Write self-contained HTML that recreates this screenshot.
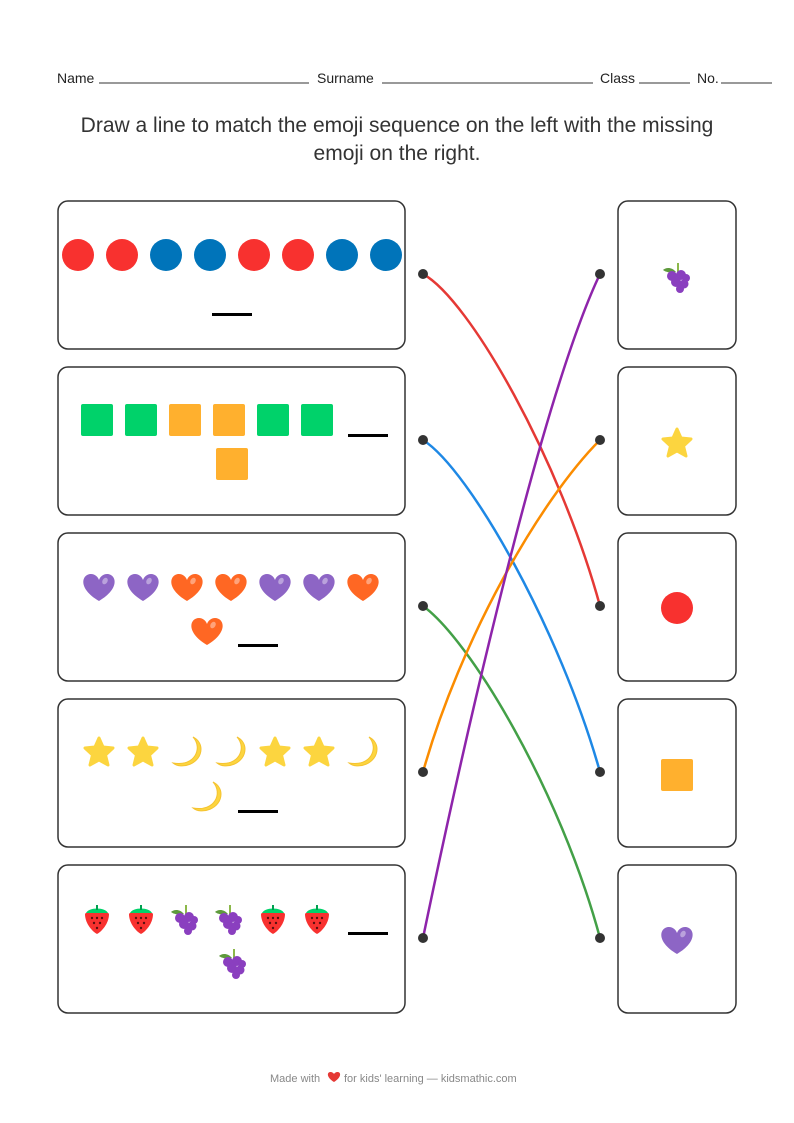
<!DOCTYPE html>
<html><head><meta charset="utf-8"><style>
html,body{margin:0;padding:0;background:#fff}
svg{display:block}
text{font-family:"Liberation Sans",sans-serif}
</style></head><body>
<svg width="794" height="1123" viewBox="0 0 794 1123" xmlns="http://www.w3.org/2000/svg">
<defs>
<g id="heart"><path d="M0,13 C-22,0 -17,-14 -8,-14 C-4,-14 -1,-11 0,-8 C1,-11 4,-14 8,-14 C17,-14 22,0 0,13Z"/><ellipse cx="6" cy="-7" rx="2.5" ry="3.5" fill="#fff" opacity=".4" transform="rotate(30 6 -7)"/></g>
<polygon id="star" points="0,-14 4,-5 14,-4 6.5,3 9,13 0,8 -9,13 -6.5,3 -14,-4 -4,-5" fill="#fcd53f" stroke="#fcd53f" stroke-width="3" stroke-linejoin="round"/>
<path id="moon" d="M6,-15 C16,-4 8,15 -14,11 C-6,18 14,12 14,-3 C14,-9 10,-13 6,-15Z" fill="#fcd53f" stroke="#f5c330" stroke-width="1"/>
<g id="straw"><path d="M-12,-6 C-12,-9 12,-9 12,-6 C12,4 4,12 0,14 C-4,12 -12,4 -12,-6Z" fill="#f8312f"/><path d="M-11,-7 C-8,-13 8,-13 11,-7 Z" fill="#00d26a"/><rect x="-1" y="-15" width="2" height="5" fill="#00a050"/><g fill="#5a1010"><circle cx="-5" cy="-2" r="1.2"/><circle cx="0" cy="-2" r="1.2"/><circle cx="5" cy="-2" r="1.2"/><circle cx="-3" cy="3" r="1.2"/><circle cx="3" cy="3" r="1.2"/><circle cx="0" cy="8" r="1.2"/></g></g>
<g id="grape"><path d="M-1,-6 C-6,-12 -12,-10 -14,-8 C-10,-5 -4,-5 -1,-6Z" fill="#5e9a3c"/><rect x="0" y="-15" width="2" height="9" fill="#8cb84a"/><g fill="#8a3fbf"><circle cx="-5" cy="-2" r="5"/><circle cx="4" cy="-3" r="5"/><circle cx="9" cy="0" r="4"/><circle cx="-1" cy="4" r="5"/><circle cx="7" cy="6" r="4.5"/><circle cx="3" cy="11" r="4"/></g></g>
</defs>

<g font-size="14" fill="#222">
<text x="57" y="83">Name</text><line x1="99" y1="83" x2="309" y2="83" stroke="#333"/>
<text x="317" y="83">Surname</text><line x1="382" y1="83" x2="593" y2="83" stroke="#333"/>
<text x="600" y="83">Class</text><line x1="639" y1="83" x2="690" y2="83" stroke="#333"/>
<text x="697" y="83">No.</text><line x1="721" y1="83" x2="772" y2="83" stroke="#333"/>
</g>
<g font-size="21" fill="#333" text-anchor="middle">
<text x="397" y="132">Draw a line to match the emoji sequence on the left with the missing</text>
<text x="397" y="160">emoji on the right.</text>
</g>

<g fill="none" stroke="#333" stroke-width="1.5">
<rect x="58" y="201" width="347" height="148" rx="10"/>
<rect x="58" y="367" width="347" height="148" rx="10"/>
<rect x="58" y="533" width="347" height="148" rx="10"/>
<rect x="58" y="699" width="347" height="148" rx="10"/>
<rect x="58" y="865" width="347" height="148" rx="10"/>
<rect x="618" y="201" width="118" height="148" rx="10"/>
<rect x="618" y="367" width="118" height="148" rx="10"/>
<rect x="618" y="533" width="118" height="148" rx="10"/>
<rect x="618" y="699" width="118" height="148" rx="10"/>
<rect x="618" y="865" width="118" height="148" rx="10"/>
</g>

<g>
<circle cx="78" cy="255" r="16" fill="#f8312f"/><circle cx="122" cy="255" r="16" fill="#f8312f"/>
<circle cx="166" cy="255" r="16" fill="#0074ba"/><circle cx="210" cy="255" r="16" fill="#0074ba"/>
<circle cx="254" cy="255" r="16" fill="#f8312f"/><circle cx="298" cy="255" r="16" fill="#f8312f"/>
<circle cx="342" cy="255" r="16" fill="#0074ba"/><circle cx="386" cy="255" r="16" fill="#0074ba"/>
</g>
<g fill="#000">
<rect x="212" y="313" width="40" height="3"/>
<rect x="348" y="434" width="40" height="3"/>
<rect x="238" y="644" width="40" height="3"/>
<rect x="238" y="810" width="40" height="3"/>
<rect x="348" y="932" width="40" height="3"/>
</g>
<g>
<rect x="81" y="404" width="32" height="32" rx="2" fill="#00d26a"/><rect x="125" y="404" width="32" height="32" rx="2" fill="#00d26a"/>
<rect x="169" y="404" width="32" height="32" rx="2" fill="#ffb02e"/><rect x="213" y="404" width="32" height="32" rx="2" fill="#ffb02e"/>
<rect x="257" y="404" width="32" height="32" rx="2" fill="#00d26a"/><rect x="301" y="404" width="32" height="32" rx="2" fill="#00d26a"/>
<rect x="216" y="448" width="32" height="32" rx="2" fill="#ffb02e"/>
</g>
<g>
<use href="#heart" x="99" y="588" fill="#8d65c5"/><use href="#heart" x="143" y="588" fill="#8d65c5"/>
<use href="#heart" x="187" y="588" fill="#ff6723"/><use href="#heart" x="231" y="588" fill="#ff6723"/>
<use href="#heart" x="275" y="588" fill="#8d65c5"/><use href="#heart" x="319" y="588" fill="#8d65c5"/>
<use href="#heart" x="363" y="588" fill="#ff6723"/><use href="#heart" x="207" y="632" fill="#ff6723"/>
</g>
<g>
<use href="#star" x="99" y="752"/><use href="#star" x="143" y="752"/>
<use href="#moon" x="187" y="752"/><use href="#moon" x="231" y="752"/>
<use href="#star" x="275" y="752"/><use href="#star" x="319" y="752"/>
<use href="#moon" x="363" y="752"/><use href="#moon" x="207" y="797"/>
</g>
<g>
<use href="#straw" x="97" y="920"/><use href="#straw" x="141" y="920"/>
<use href="#grape" x="185" y="920"/><use href="#grape" x="229" y="920"/>
<use href="#straw" x="273" y="920"/><use href="#straw" x="317" y="920"/>
<use href="#grape" x="233" y="964"/>
</g>
<use href="#grape" x="677" y="278"/>
<use href="#star" x="677" y="443"/>
<circle cx="677" cy="608" r="16" fill="#f8312f"/>
<rect x="661" y="759" width="32" height="32" rx="2" fill="#ffb02e"/>
<use href="#heart" x="677" y="941" fill="#8d65c5"/>

<g fill="none" stroke-width="2.5">
<path d="M423,274 C470,300 560,460 600,606" stroke="#e53935"/>
<path d="M423,440 C470,470 560,630 600,772" stroke="#1e88e5"/>
<path d="M423,606 C470,640 560,790 600,938" stroke="#43a047"/>
<path d="M423,772 C460,640 540,500 600,440" stroke="#fb8c00"/>
<path d="M423,938 C460,760 540,400 600,274" stroke="#8e24aa"/>
</g>
<g fill="#333">
<circle cx="423" cy="274" r="5"/><circle cx="423" cy="440" r="5"/><circle cx="423" cy="606" r="5"/><circle cx="423" cy="772" r="5"/><circle cx="423" cy="938" r="5"/>
<circle cx="600" cy="274" r="5"/><circle cx="600" cy="440" r="5"/><circle cx="600" cy="606" r="5"/><circle cx="600" cy="772" r="5"/><circle cx="600" cy="938" r="5"/>
</g>

<text x="270" y="1082" font-size="11" fill="#888">Made with</text>
<path d="M334,1082 C326,1077 327,1072 330.5,1072 C332,1072 333.5,1073 334,1074 C334.5,1073 336,1072 337.5,1072 C341,1072 342,1077 334,1082Z" fill="#e53935"/>
<text x="344" y="1082" font-size="11" fill="#888">for kids' learning — kidsmathic.com</text>
</svg>
</body></html>
